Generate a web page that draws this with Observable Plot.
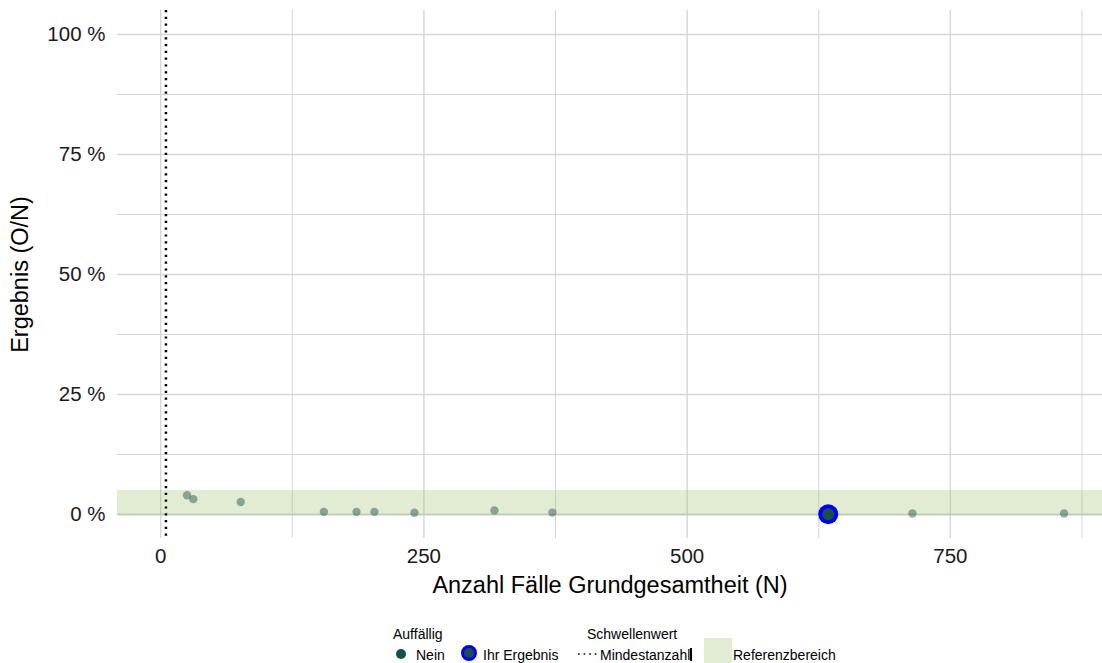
<!DOCTYPE html>
<html>
<head>
<meta charset="utf-8">
<script src="https://cdn.jsdelivr.net/npm/d3@7"></script>
<script src="https://cdn.jsdelivr.net/npm/@observablehq/plot@0.6"></script>
<style>
  body { margin: 0; background: #fff; font-family: "Liberation Sans", Arial, sans-serif; }
  #wrap { position: relative; width: 1102px; height: 663px; }
  .lg { position: absolute; font-size: 14px; color: #000; white-space: nowrap; line-height: 1; }
</style>
</head>
<body>
<div id="wrap"></div>
<script>
// Data
const casesN = [25, 31, 76, 155, 186, 203, 241, 317, 372, 714, 858];
const resultPct = [4.0, 3.2, 2.6, 0.55, 0.55, 0.55, 0.35, 0.85, 0.4, 0.2, 0.2];
const ownN = [634];
const ownPct = [0.05];
const refLow = 0, refHigh = 5;
const minCount = 5;
const xTicks = [0, 250, 500, 750];
const yTicks = [0, 25, 50, 75, 100];
const xMinor = [125, 375, 625, 875];
const yMinor = [12.5, 37.5, 62.5, 87.5];

const pts = casesN.map((n, i) => ({n, p: resultPct[i]}));
const own = ownN.map((n, i) => ({n, p: ownPct[i]}));

const font = "Liberation Sans, Arial, sans-serif";
const grid = "#d6d6d6";

const chart = Plot.plot({
  width: 1102,
  height: 612,
  marginLeft: 117,
  marginRight: 0,
  marginTop: 10,
  marginBottom: 74,
  style: {fontFamily: font, background: "#fff"},
  x: {domain: [-41, 894.5]},
  y: {domain: [-5, 105]},
  marks: [
    Plot.ruleX(xMinor, {stroke: grid, strokeWidth: 1}),
    Plot.ruleY(yMinor, {stroke: grid, strokeWidth: 1}),
    Plot.ruleX(xTicks, {stroke: grid, strokeWidth: 1.4}),
    Plot.ruleY(yTicks, {stroke: grid, strokeWidth: 1.4}),
    Plot.rectY([{a: refLow, b: refHigh}], {y1: "a", y2: "b", fill: "#9bbf6a", fillOpacity: 0.3}),
    Plot.ruleY([0], {stroke: "#bfcab2", strokeWidth: 1.4}),
    Plot.ruleX([minCount], {stroke: "#000", strokeWidth: 2.5, strokeDasharray: "2.2,4.6"}),
    Plot.dot(pts, {x: "n", y: "p", r: 4.2, fill: "#14504a", fillOpacity: 0.45, stroke: "none"}),
    Plot.dot(own, {x: "n", y: "p", r: 10, fill: "#0000ff"}),
    Plot.dot(own, {x: "n", y: "p", r: 6, fill: "#1a5048"}),
    Plot.axisX(xTicks, {tickSize: 0, tickPadding: 10, fontSize: 20.5, label: null, fill: "#1a1a1a"}),
    Plot.axisY(yTicks, {tickSize: 0, tickPadding: 12, fontSize: 20.5, label: null, fill: "#1a1a1a", tickFormat: d => d + " %"}),
    Plot.text(["Anzahl Fälle Grundgesamtheit (N)"], {frameAnchor: "bottom", dy: 54, fontSize: 23.5, fill: "#000"}),
    Plot.text(["Ergebnis (O/N)"], {frameAnchor: "left", textAnchor: "middle", dx: -97, rotate: -90, fontSize: 23.5, fill: "#000"})
  ]
});
const wrap = document.getElementById("wrap");
wrap.appendChild(chart);

// Legend (HTML below the SVG)
function add(html) { wrap.insertAdjacentHTML("beforeend", html); }
add('<div class="lg" style="left:393px;top:627px">Auffällig</div>');
add('<div class="lg" style="left:587px;top:627px">Schwellenwert</div>');
add('<div style="position:absolute;left:396px;top:649px;width:10px;height:10px;border-radius:50%;background:#14504a"></div>');
add('<div class="lg" style="left:416px;top:648px">Nein</div>');
add('<div style="position:absolute;left:461px;top:645px;width:10px;height:10px;border-radius:50%;background:#1a5048;border:3.5px solid #0000ff"></div>');
add('<div class="lg" style="left:483px;top:648px">Ihr Ergebnis</div>');
add('<svg style="position:absolute;left:577px;top:650px" width="22" height="8"><line x1="1" x2="22" y1="4" y2="4" stroke="#000" stroke-width="1.6" stroke-dasharray="1.6,4"/></svg>');
add('<div class="lg" style="left:600px;top:648px">Mindestanzahl</div>');
add('<div style="position:absolute;left:690px;top:648px;width:1.5px;height:13px;background:#000"></div>');
add('<div style="position:absolute;left:704px;top:638px;width:28px;height:25px;background:#e2ecd3"></div>');
add('<div class="lg" style="left:733px;top:648px">Referenzbereich</div>');
</script>
</body>
</html>
